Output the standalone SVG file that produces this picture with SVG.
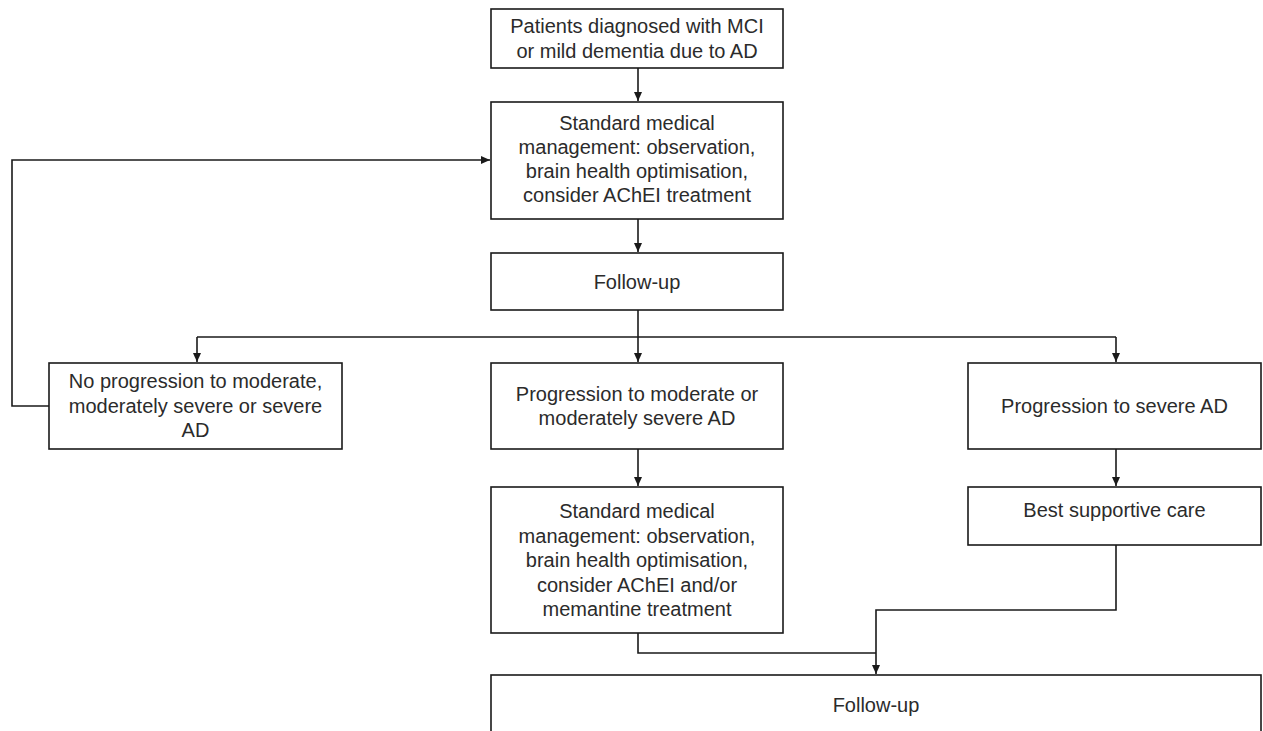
<svg xmlns="http://www.w3.org/2000/svg" width="1263" height="731" viewBox="0 0 1263 731">
<style>
.box{fill:#ffffff;stroke:#1a1a1a;stroke-width:1.6}
.t{font-family:"Liberation Sans",Arial,sans-serif;font-size:20px;fill:#2b2b2b;text-anchor:middle}
.c{fill:none;stroke:#1a1a1a;stroke-width:1.6}
</style>
<defs>
<marker id="ah" markerWidth="10" markerHeight="10" refX="9" refY="5" orient="auto" markerUnits="userSpaceOnUse">
<path d="M0,1 L9,5 L0,9 Z" fill="#1a1a1a"/>
</marker>
</defs>
<rect width="1263" height="731" fill="#ffffff"/>
<g id="connectors">
<path class="c" d="M638,68 V101" marker-end="url(#ah)"/>
<path class="c" d="M638,219 V252" marker-end="url(#ah)"/>
<path class="c" d="M638,310 V337"/>
<path class="c" d="M197,337 H1116"/>
<path class="c" d="M197,337 V362" marker-end="url(#ah)"/>
<path class="c" d="M638,337 V362" marker-end="url(#ah)"/>
<path class="c" d="M1116,337 V362" marker-end="url(#ah)"/>
<path class="c" d="M49,406 H12 V160 H490" marker-end="url(#ah)"/>
<path class="c" d="M638,449 V486" marker-end="url(#ah)"/>
<path class="c" d="M1116,449 V486" marker-end="url(#ah)"/>
<path class="c" d="M638,633 V653 H876"/>
<path class="c" d="M1116,545 V610 H876 V674" marker-end="url(#ah)"/>
</g>
<g id="n1">
<rect class="box" x="491" y="9" width="292" height="59"/>
<text class="t" x="637" y="33">Patients diagnosed with MCI</text>
<text class="t" x="637" y="58">or mild dementia due to AD</text>
</g>
<g id="n2">
<rect class="box" x="491" y="102" width="292" height="117"/>
<text class="t" x="637" y="130">Standard medical</text>
<text class="t" x="637" y="154">management: observation,</text>
<text class="t" x="637" y="178">brain health optimisation,</text>
<text class="t" x="637" y="202">consider AChEI treatment</text>
</g>
<g id="n3">
<rect class="box" x="491" y="253" width="292" height="57"/>
<text class="t" x="637" y="289">Follow-up</text>
</g>
<g id="n4">
<rect class="box" x="49" y="363" width="293" height="86"/>
<text class="t" x="195.5" y="388">No progression to moderate,</text>
<text class="t" x="195.5" y="413">moderately severe or severe</text>
<text class="t" x="195.5" y="437">AD</text>
</g>
<g id="n5">
<rect class="box" x="491" y="363" width="292" height="86"/>
<text class="t" x="637" y="401">Progression to moderate or</text>
<text class="t" x="637" y="425">moderately severe AD</text>
</g>
<g id="n6">
<rect class="box" x="968" y="363" width="293" height="86"/>
<text class="t" x="1114.5" y="413">Progression to severe AD</text>
</g>
<g id="n7">
<rect class="box" x="491" y="487" width="292" height="146"/>
<text class="t" x="637" y="518">Standard medical</text>
<text class="t" x="637" y="543">management: observation,</text>
<text class="t" x="637" y="567">brain health optimisation,</text>
<text class="t" x="637" y="592">consider AChEI and/or</text>
<text class="t" x="637" y="616">memantine treatment</text>
</g>
<g id="n8">
<rect class="box" x="968" y="487" width="293" height="58"/>
<text class="t" x="1114.5" y="517">Best supportive care</text>
</g>
<g id="n9">
<rect class="box" x="491" y="675" width="770" height="90"/>
<text class="t" x="876" y="712">Follow-up</text>
</g>
</svg>
